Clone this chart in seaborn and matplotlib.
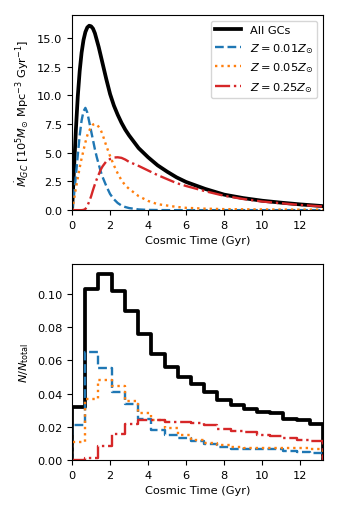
import numpy as np
import pandas as pd
import seaborn as sns
import matplotlib
matplotlib.use("Agg")
import matplotlib.pyplot as plt

plt.rcParams["font.size"] = 8.2

# top panel: GC formation rate curves
t_rate = [0.0, 0.1, 0.2, 0.3, 0.4, 0.5, 0.6, 0.7, 0.8, 0.9, 1.0, 1.1, 1.2, 1.3, 1.4, 1.5,
          1.6, 1.8, 2.0, 2.2, 2.4, 2.6, 2.8, 3.0, 3.5, 4.0, 4.5, 5.0, 5.5, 6.0, 7.0, 8.0,
          9.0, 10.0, 11.0, 12.0, 13.2]
rate_all = [0.0, 3.5, 7.0, 9.9, 12.1, 13.7, 14.8, 15.5, 15.9, 16.05, 16.0, 15.8, 15.4, 14.8,
            14.2, 13.5, 12.8, 11.4, 10.1, 9.1, 8.3, 7.6, 7.0, 6.5, 5.4, 4.6, 3.9, 3.35, 2.85,
            2.45, 1.85, 1.35, 1.05, 0.82, 0.65, 0.5, 0.35]
rate_z001 = [0.0, 1.3, 3.0, 4.8, 6.5, 7.8, 8.6, 8.9, 8.5, 7.7, 6.9, 6.1, 5.3, 4.6, 4.0, 3.4,
             2.9, 2.1, 1.4, 0.95, 0.62, 0.4, 0.27, 0.18, 0.06, 0.02, 0.01, 0.0, 0.0, 0.0,
             0.0, 0.0, 0.0, 0.0, 0.0, 0.0, 0.0]
rate_z005 = [0.0, 0.9, 1.9, 2.8, 3.7, 4.5, 5.2, 5.9, 6.5, 6.9, 7.25, 7.45, 7.5, 7.45, 7.25,
             7.0, 6.6, 5.6, 4.7, 3.9, 3.2, 2.6, 2.15, 1.85, 1.22, 0.8, 0.52, 0.4, 0.28, 0.2,
             0.13, 0.09, 0.07, 0.06, 0.05, 0.045, 0.04]
rate_z025 = [0.0, 0.0, 0.0, 0.0, 0.0, 0.0, 0.02, 0.1, 0.35, 0.75, 1.2, 1.75, 2.25, 2.7, 3.1,
             3.5, 3.8, 4.25, 4.45, 4.58, 4.6, 4.55, 4.4, 4.2, 3.85, 3.45, 3.05, 2.7, 2.35,
             2.1, 1.65, 1.25, 0.97, 0.75, 0.6, 0.45, 0.32]

# bottom panel: fraction of GCs per time bin
t_max = 13.2
n_bins = 19
frac_all = [0.032, 0.103, 0.112, 0.102, 0.090, 0.076, 0.064, 0.056, 0.050, 0.046,
            0.041, 0.036, 0.033, 0.031, 0.029, 0.0285, 0.025, 0.024, 0.022]
frac_z001 = [0.021, 0.065, 0.0555, 0.041, 0.0335, 0.0245, 0.018, 0.015, 0.0135, 0.0115,
             0.0095, 0.0081, 0.0069, 0.0065, 0.0065, 0.0065, 0.0054, 0.0048, 0.0045]
frac_z005 = [0.011, 0.0365, 0.048, 0.0448, 0.0357, 0.0286, 0.024, 0.0192, 0.0151, 0.0119,
             0.0101, 0.0089, 0.0077, 0.0071, 0.0073, 0.0071, 0.007, 0.0072, 0.0069]
frac_z025 = [0.0, 0.0015, 0.0085, 0.0155, 0.0215, 0.0242, 0.024, 0.0232, 0.0227, 0.0222,
             0.0212, 0.0186, 0.0172, 0.0166, 0.0149, 0.0145, 0.0131, 0.0121, 0.0113]

labels = ["All GCs", r"$Z=0.01Z_{\odot}$", r"$Z=0.05Z_{\odot}$", r"$Z=0.25Z_{\odot}$"]
colors = ["black", "tab:blue", "tab:orange", "tab:red"]
styles = ["-", "--", ":", "-."]
widths = [2.7, 1.7, 1.7, 1.7]

fig = plt.figure(figsize=(3.4, 5.1), dpi=100)
ax1 = fig.add_axes([0.212, 0.586, 0.738, 0.383])
ax2 = fig.add_axes([0.212, 0.096, 0.738, 0.384])

# top
rates = [rate_all, rate_z001, rate_z005, rate_z025]
for r, lab, c, ls, lw in zip(rates, labels, colors, styles, widths):
    sns.lineplot(x=t_rate, y=r, ax=ax1, color=c, linestyle=ls, linewidth=lw, label=lab)
ax1.set_xlim(0, t_max)
ax1.set_ylim(0, 17.0)
ax1.set_yticks(np.arange(0, 15.1, 2.5))
ax1.set_xticks(range(0, 13, 2))
ax1.set_xlabel("Cosmic Time (Gyr)")
ax1.set_ylabel(r"$\dot{M}_{GC}$ [$10^5 M_{\odot}$ Mpc$^{-3}$ Gyr$^{-1}$]")
ax1.legend(loc="upper right", handlelength=2.2)

# bottom
edges = [float(e) for e in np.linspace(0, t_max, n_bins + 1)]
centers = [0.5 * (a + b) for a, b in zip(edges[:-1], edges[1:])]
fracs = [frac_all, frac_z001, frac_z005, frac_z025]
for f, c, ls, lw in zip(fracs, colors, styles, widths):
    df = pd.DataFrame({"t": centers, "w": f})
    sns.histplot(data=df, x="t", weights="w", bins=edges, element="step", fill=False,
                 color=c, linestyle=ls, linewidth=lw, ax=ax2)
    # close the step outline down to zero at both ends, like histtype='step'
    ln = ax2.lines[-1]
    xs, ys = list(ln.get_xdata()), list(ln.get_ydata())
    ln.set_data([xs[0]] + xs + [xs[-1]], [0] + ys + [0])
ax2.set_xlim(0, t_max)
ax2.set_ylim(0, 0.118)
ax2.set_xticks(range(0, 13, 2))
ax2.set_yticks(np.arange(0, 0.101, 0.02))
ax2.set_xlabel("Cosmic Time (Gyr)")
ax2.set_ylabel(r"$N/N_{\rm total}$")

fig.savefig("out.png", dpi=100)
